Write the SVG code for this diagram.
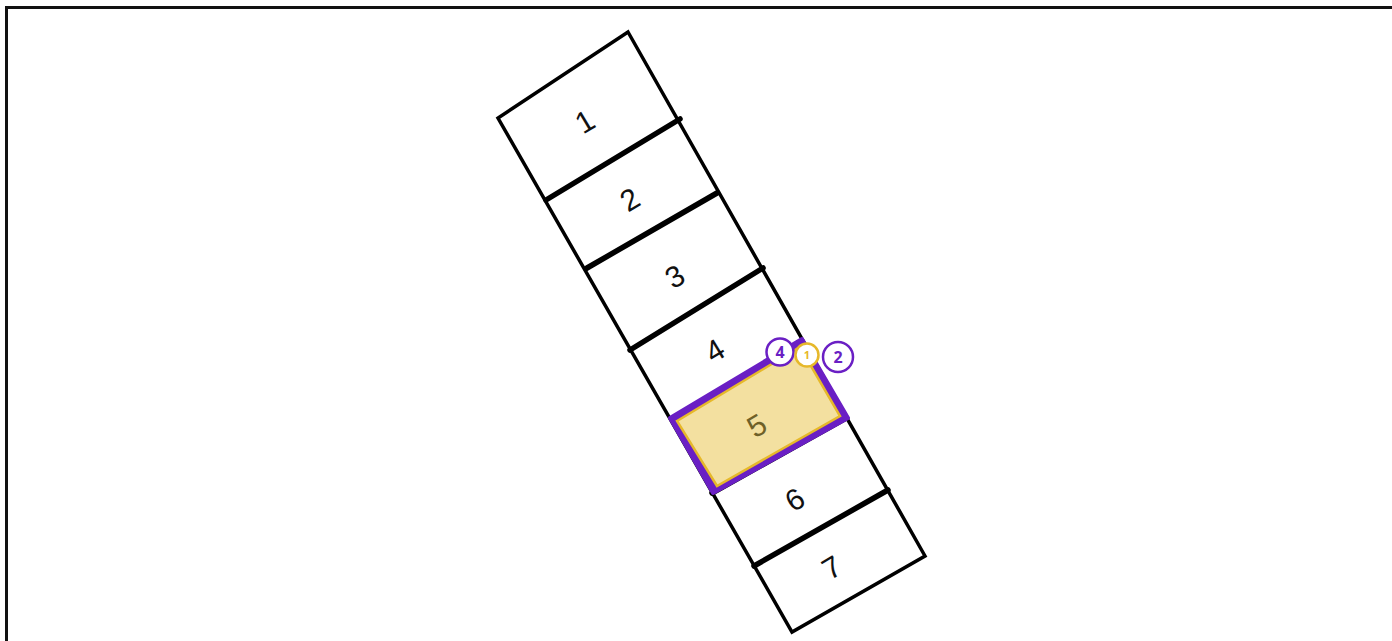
<svg xmlns="http://www.w3.org/2000/svg" width="1392" height="641" viewBox="0 0 1392 641">
<style>
.frame{fill:none;stroke:#111;stroke-width:3}
.outline{fill:none;stroke:#000;stroke-width:3.5;stroke-linejoin:miter}
.div{stroke:#000;stroke-width:5.5;stroke-linecap:round}
.badge{fill:#fff;stroke-width:2.5}
</style>
<rect width="1392" height="641" fill="#fff"/>
<path class="frame" d="M6.5,641 V7.5 H1392"/>
<g id="strip">
<polygon class="outline" points="628,32 925,556 792,632 498,118"/>
</g>
<g id="dividers">
<line class="div" x1="546" y1="200" x2="680" y2="119"/>
<line class="div" x1="587" y1="268" x2="717" y2="193"/>
<line class="div" x1="630" y1="350" x2="763" y2="268"/>
<line class="div" x1="754" y1="566" x2="888" y2="490"/>
<line class="div" x1="712" y1="493" x2="846" y2="418"/>
</g>
<g id="cell5">
<polygon points="670,418 802,339 848,418 713,493" fill="#6a1fc4" stroke="#6a1fc4" stroke-width="4" stroke-linejoin="round"/>
<polygon points="677,421 800,347 840,416 717,486" fill="#f3e0a0" stroke="#e6b82a" stroke-width="2.5"/>
</g>
<g id="labels" font-family="Liberation Sans, Arial, sans-serif" font-size="30" fill="#111" text-anchor="middle">
<text transform="translate(585,122) rotate(-31)" y="10">1</text>
<text transform="translate(630,200) rotate(-31)" y="10">2</text>
<text transform="translate(675,277) rotate(-31)" y="10">3</text>
<text transform="translate(715,351) rotate(-31)" y="10">4</text>
<text transform="translate(757,426) rotate(-31)" y="10" fill="#6f6128">5</text>
<text transform="translate(795,500) rotate(-31)" y="10">6</text>
<text transform="translate(832,568) rotate(-31)" y="10">7</text>
</g>
<g id="badge-4">
<circle class="badge" cx="780" cy="352" r="13.5" stroke="#6a1fc4"/>
<text x="780" y="357.5" font-family="Noto Sans, Liberation Sans, sans-serif" font-weight="bold" text-anchor="middle" font-size="16" fill="#6a1fc4">4</text>
</g>
<g id="badge-1">
<circle class="badge" cx="807" cy="355" r="11.5" stroke="#e6b82a"/>
<text x="807" y="359" font-family="Noto Sans, Liberation Sans, sans-serif" font-weight="bold" text-anchor="middle" font-size="11" fill="#e6b82a">1</text>
</g>
<g id="badge-2">
<circle class="badge" cx="838" cy="357" r="15" stroke="#6a1fc4"/>
<text x="838" y="362.5" font-family="Noto Sans, Liberation Sans, sans-serif" font-weight="bold" text-anchor="middle" font-size="16" fill="#6a1fc4">2</text>
</g>
</svg>
